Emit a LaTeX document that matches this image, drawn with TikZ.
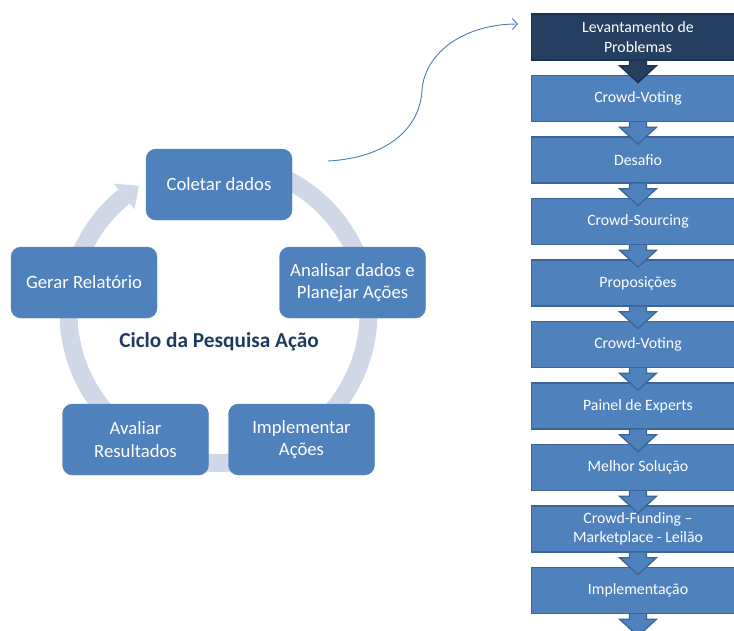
\documentclass[tikz,border=0pt]{standalone}
\usepackage{fontspec}
\setmainfont{Carlito}
\usetikzlibrary{arrows.meta}
\definecolor{boxblue}{HTML}{4F81BD}
\definecolor{boxedge}{HTML}{3A6596}
\definecolor{darkbox}{HTML}{243F60}
\definecolor{darkedge}{HTML}{1B3150}
\definecolor{ringc}{HTML}{D0D8E8}
\definecolor{titlec}{HTML}{1F3A60}
\definecolor{curvec}{HTML}{4A7EBB}
\tikzset{
  cyclebox/.style={fill=boxblue, draw=boxblue, rounded corners=10pt, minimum width=146pt, minimum height=71pt,
    text=white, align=center, inner sep=2pt, font=\fontsize{18.7}{22.7}\selectfont},
  flowbox/.style={fill=boxblue, draw=boxedge, line width=1.3pt, minimum width=213.5pt, minimum height=46pt,
    text=white, align=center, inner sep=1pt, font=\fontsize{15.8}{19.5}\selectfont},
  darkflow/.style={flowbox, fill=darkbox, draw=darkedge},
  flowarrow/.style={fill=boxblue, draw=boxedge, line width=1.3pt, line join=miter},
  darkarrow/.style={fill=darkbox, draw=darkedge, line width=1.3pt, line join=miter},
  ring/.style={draw=ringc, line width=18pt},
}
\begin{document}
\begin{tikzpicture}[x=1pt, y=-1pt]
\clip (0,0) rectangle (734,630);
% ring
\draw[ring] plot[domain=-231:75, samples=150] ({218.5+150*cos(\x)},{313-150*sin(\x)});
\fill[ringc] ({218.5+150*cos(122)},{313-150*sin(122)}) -- ({218.5+133.5*cos(129)},{313-133.5*sin(129)}) -- ({218.5+166.5*cos(129)},{313-166.5*sin(129)}) -- cycle;
% cycle boxes
\node[cyclebox] (col) at (219,184.5) {Coletar dados};
\node[cyclebox] (ana) at (352.5,282.5) {Analisar dados e\\Planejar Ações};
\node[cyclebox] (imp) at (301.5,439.5) {Implementar\\Ações};
\node[cyclebox] (ava) at (135.5,439.5) {Avaliar\\Resultados};
\node[cyclebox] (ger) at (84,282.5) {Gerar Relatório};
\node[text=titlec, font=\fontsize{21.3}{24}\selectfont\bfseries] (title) at (219,342) {Ciclo da Pesquisa Ação};
% flow boxes
\node[darkflow] (f1) at (638,37) {Levantamento de\\Problemas};
\node[flowbox] (f2) at (638,98.5) {Crowd-Voting};
\node[flowbox] (f3) at (638,160) {Desafio};
\node[flowbox] (f4) at (638,221.5) {Crowd-Sourcing};
\node[flowbox] (f5) at (638,283) {Proposições};
\node[flowbox] (f6) at (638,344.5) {Crowd-Voting};
\node[flowbox] (f7) at (638,406) {Painel de Experts};
\node[flowbox] (f8) at (638,467.5) {Melhor Solução};
\node[flowbox] (f9) at (638,529) {Crowd-Funding –\\Marketplace - Leilão};
\node[flowbox] (f10) at (638,590.5) {Implementação};
% down arrows
\foreach \n/\st in {f1/darkarrow,f2/flowarrow,f3/flowarrow,f4/flowarrow,f5/flowarrow,f6/flowarrow,f7/flowarrow,f8/flowarrow,f9/flowarrow,f10/flowarrow}{
  \path[\st] ([xshift=-8.5pt]\n.south) -- ++(0,5) -- ++(-10,0) -- ++(18.5,17) -- ++(18.5,-17) -- ++(-10,0) -- ++(0,-5);
}
% curved connector
\coordinate (cstart) at (328,161);
\coordinate (cmid) at (422,90);
\coordinate (cend) at (518,24);
\draw[curvec, line width=0.9pt, -{Straight Barb[length=5pt,width=11pt]}] (cstart) .. controls (385,158) and (420,130) .. (cmid) .. controls (425,52) and (465,24) .. (cend);
\end{tikzpicture}
\end{document}
